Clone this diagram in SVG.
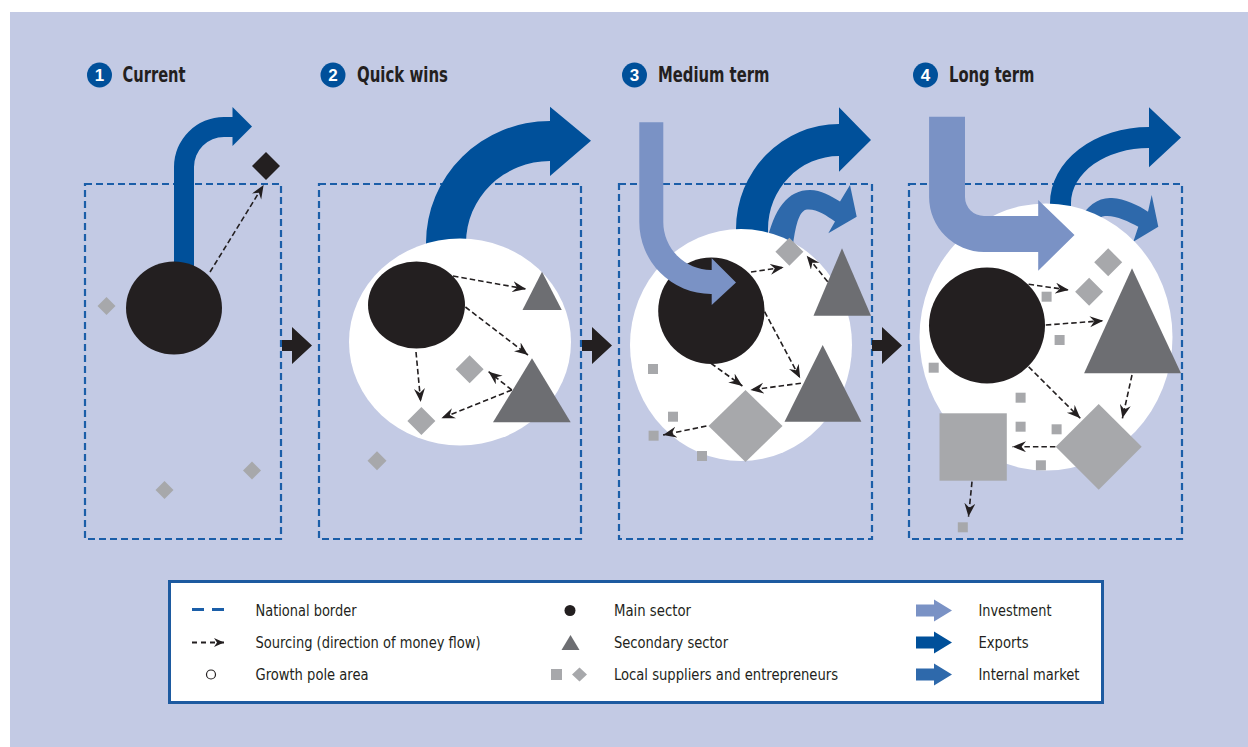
<svg xmlns="http://www.w3.org/2000/svg" width="1248" height="747" viewBox="0 0 1248 747">
<defs>
<marker id="ah" markerUnits="userSpaceOnUse" markerWidth="15" markerHeight="12" refX="13.5" refY="5.5" orient="auto">
<path d="M0,0 L13.5,5.5 L0,11 L4.5,5.5 Z" fill="#231f20"/>
</marker>
<marker id="ahs" markerUnits="userSpaceOnUse" markerWidth="12" markerHeight="10" refX="10" refY="4.5" orient="auto">
<path d="M0,0 L10,4.5 L0,9 L3,4.5 Z" fill="#231f20"/>
</marker>
<style>
.bg{fill:#c3cae4}
.border{fill:none;stroke:#1b5ea8;stroke-width:2.2;stroke-dasharray:7 4}
.pole{fill:#fff}
.main{fill:#231f20}
.sec{fill:#6d6e72}
.loc{fill:#a7a8ab}
.exp{fill:#00509a}
.inv{fill:#7a92c5}
.int{fill:#2e69ab}
.blk{fill:#231f20}
.src{fill:none;stroke:#231f20;stroke-width:1.6;stroke-dasharray:5.5 3;marker-end:url(#ah)}
.title{font-family:"Liberation Sans Narrow","DejaVu Sans Condensed","Liberation Sans",sans-serif;font-stretch:condensed;font-weight:bold;font-size:21px;fill:#231f20}
.num{font-family:"Liberation Sans","DejaVu Sans",sans-serif;font-weight:bold;font-size:17px;fill:#fff;text-anchor:middle}
.lg{font-family:"Liberation Sans Narrow","DejaVu Sans Condensed","Liberation Sans",sans-serif;font-stretch:condensed;font-size:16px;fill:#231f20}
</style>
</defs>
<rect class="bg" x="10" y="12" width="1238" height="735"/>

<!-- titles -->
<g id="title1"><circle cx="99.5" cy="75" r="12.5" fill="#00509a"/><text class="num" x="99.5" y="81">1</text><text class="title" x="122.5" y="82" textLength="63" lengthAdjust="spacingAndGlyphs">Current</text></g>
<g id="title2"><circle cx="333" cy="75" r="12.5" fill="#00509a"/><text class="num" x="333" y="81">2</text><text class="title" x="357" y="82" textLength="91" lengthAdjust="spacingAndGlyphs">Quick wins</text></g>
<g id="title3"><circle cx="634.5" cy="75" r="12.5" fill="#00509a"/><text class="num" x="634.5" y="81">3</text><text class="title" x="658" y="82" textLength="111.5" lengthAdjust="spacingAndGlyphs">Medium term</text></g>
<g id="title4"><circle cx="925.5" cy="75" r="12.5" fill="#00509a"/><text class="num" x="925.5" y="81">4</text><text class="title" x="949" y="82" textLength="85.5" lengthAdjust="spacingAndGlyphs">Long term</text></g>

<!-- national borders -->
<g id="borders">
<rect id="border1" class="border" x="85" y="184" width="196" height="355"/>
<rect id="border2" class="border" x="319" y="184" width="262" height="355"/>
<rect id="border3" class="border" x="619" y="184" width="253" height="355"/>
<rect id="border4" class="border" x="909" y="184" width="273" height="355"/>
</g>

<!-- stage transition arrows -->
<g id="stage-arrows">
<polygon class="blk" points="282,340 292,340 292,327 312,345.5 292,364 292,351 282,351"/>
<polygon class="blk" points="582,340 592,340 592,327 612,345.5 592,364 592,351 582,351"/>
<polygon class="blk" points="872,340 882,340 882,327 902,345.5 882,364 882,351 872,351"/>
</g>

<!-- Panel 1 -->
<g id="p1-exports"><path class="exp" d="M174 275 L174 167 A50 50 0 0 1 224 117 L232.5 117 L232.5 107 L252 126.5 L232.5 146 L232.5 137 L224 137 A30 30 0 0 0 194 167 L194 275 Z"/></g>
<g id="p1-main"><ellipse class="main" cx="174" cy="308" rx="48" ry="46.5"/></g>
<g id="p1-export-buyer"><polygon class="main" points="266,152 280,166 266,180 252,166"/></g>
<g id="p1-local1"><polygon class="loc" points="106.5,297 115.5,306 106.5,315 97.5,306"/></g>
<g id="p1-local2"><polygon class="loc" points="164.5,481 173.5,490 164.5,499 155.5,490"/></g>
<g id="p1-local3"><polygon class="loc" points="252,461.5 261,470.5 252,479.5 243,470.5"/></g>

<!-- Panel 2 -->
<g id="p2-exports"><path class="exp" d="M426 270 L426 243 A124 122 0 0 1 550 121 L550 106.7 L591 140.7 L550 176 L550 161 A84 82 0 0 0 466 243 L466 270 Z"/></g>
<g id="p2-pole"><ellipse class="pole" cx="460" cy="342" rx="111" ry="103.5"/></g>
<g id="p2-main"><ellipse class="main" cx="416.5" cy="305" rx="48.5" ry="43.5"/></g>
<g id="p2-sec1"><polygon class="sec" points="542,271.7 561.8,310 522.5,310"/></g>
<g id="p2-sec2"><polygon class="sec" points="532,358.3 570.7,422.3 493,422.3"/></g>
<g id="p2-local1"><polygon class="loc" points="469.6,355.3 483.6,369.3 469.6,383.3 455.6,369.3"/></g>
<g id="p2-local2"><polygon class="loc" points="421.4,407 435.4,421 421.4,435 407.4,421"/></g>
<g id="p2-local3"><polygon class="loc" points="377,451.2 386.5,460.7 377,470.2 367.5,460.7"/></g>

<!-- Panel 3 -->
<g id="p3-exports"><path class="exp" d="M736 250 L736 229 A103 105 0 0 1 839 124 L839 107.3 L871 140 L839 171.7 L839 156 A71 73 0 0 0 768 229 L768 250 Z"/></g>
<g id="p3-internal"><path class="int" d="M766 245 C774 208 788 190 810 190 C821 190 831 196 840 201.5 L850 185 L856.7 216.7 L828.3 233.3 L835 221.5 C826 215 816 208.5 807 209.5 C800 210.5 796 222 793 245 Z"/></g>
<g id="p3-pole"><ellipse class="pole" cx="741" cy="345" rx="111" ry="116"/></g>
<g id="p3-main"><circle class="main" cx="711.4" cy="310.8" r="53.2"/></g>
<g id="p3-investment"><path class="inv" d="M639.3 122.3 L639.3 222 A72 72 0 0 0 711 294 L711.7 294 L711.7 305 L736 282.5 L711.7 258.3 L711.7 270 L711 270 A48 48 0 0 1 663.3 222 L663.3 122.3 Z"/></g>
<g id="p3-sec1"><polygon class="sec" points="842,248.3 871,315.7 813.5,315.7"/></g>
<g id="p3-sec2"><polygon class="sec" points="822.7,345 861.4,421.7 784.5,421.7"/></g>
<g id="p3-local1"><polygon class="loc" points="789.4,237.7 803.4,251.7 789.4,265.7 775.4,251.7"/></g>
<g id="p3-local2"><polygon class="loc" points="745.5,390 782.5,426 745.5,462 708.5,426"/></g>
<g id="p3-local3"><rect class="loc" x="648" y="364" width="10" height="10"/></g>
<g id="p3-local4"><rect class="loc" x="668" y="411.7" width="10" height="10"/></g>
<g id="p3-local5"><rect class="loc" x="648.6" y="430.7" width="10" height="10"/></g>
<g id="p3-local6"><rect class="loc" x="697" y="451" width="10" height="10"/></g>

<!-- Panel 4 -->
<g id="p4-exports"><path class="exp" d="M1050 225 L1050 203 A99 76 0 0 1 1149 127 L1149 107.3 L1181 137.5 L1149 167.3 L1149 148 A78 55 0 0 0 1071 203 L1071 225 Z"/></g>
<g id="p4-internal"><path class="int" d="M1078 222 C1087 205 1099 197 1112 198 C1125 199 1138 205 1148 211.7 L1151.7 195 L1158.3 226.7 L1133.3 241.7 L1138.3 226.7 C1128 221 1115 215 1105 216 C1098 217 1093 222 1090 230 Z"/></g>
<g id="p4-pole"><ellipse class="pole" cx="1046" cy="337" rx="126.5" ry="133.5"/></g>
<g id="p4-investment"><path class="inv" d="M929.1 116.7 L929.1 197 A55 55 0 0 0 984 252 L1038.2 252 L1038.2 270.7 L1074.5 235 L1038.2 200 L1038.2 216 L984 216 A19 19 0 0 1 965 197 L965 116.7 Z"/></g>
<g id="p4-main"><circle class="main" cx="987" cy="325.5" r="58"/></g>
<g id="p4-sec1"><polygon class="sec" points="1132,268.3 1181,373.3 1084.1,373.3"/></g>
<g id="p4-local1"><polygon class="loc" points="1108.2,248.3 1122.2,262.3 1108.2,276.3 1094.2,262.3"/></g>
<g id="p4-local2"><polygon class="loc" points="1089.1,277.7 1103.1,291.7 1089.1,305.7 1075.1,291.7"/></g>
<g id="p4-local3"><polygon class="loc" points="1098.7,404 1141.7,446.7 1098.7,489.7 1055.7,446.7"/></g>
<g id="p4-local4"><rect class="loc" x="939.5" y="413.3" width="67.3" height="67.4"/></g>
<g id="p4-local5"><rect class="loc" x="1041.6" y="291.7" width="10" height="10"/></g>
<g id="p4-local6"><rect class="loc" x="1054.6" y="335" width="10" height="10"/></g>
<g id="p4-local7"><rect class="loc" x="928.7" y="362.7" width="10" height="10"/></g>
<g id="p4-local8"><rect class="loc" x="1015.6" y="392.7" width="10" height="10"/></g>
<g id="p4-local9"><rect class="loc" x="1015.6" y="421.7" width="10" height="10"/></g>
<g id="p4-local10"><rect class="loc" x="1051.6" y="424.3" width="10" height="10"/></g>
<g id="p4-local11"><rect class="loc" x="1035.9" y="460.3" width="10" height="10"/></g>
<g id="p4-local12"><rect class="loc" x="957.8" y="522.3" width="10" height="10"/></g>

<!-- sourcing connectors -->
<g id="connectors">
<line class="src" x1="210" y1="272" x2="263.6" y2="185"/>
<line class="src" x1="453" y1="276" x2="526" y2="289"/>
<line class="src" x1="465.4" y1="307" x2="528" y2="355"/>
<line class="src" x1="416" y1="352" x2="420.7" y2="402"/>
<line class="src" x1="511.8" y1="390" x2="441.4" y2="418.3"/>
<line class="src" x1="511.8" y1="390" x2="488.6" y2="371.7"/>
<line class="src" x1="751" y1="272" x2="783.7" y2="267.3"/>
<line class="src" x1="827.7" y1="281.7" x2="806.7" y2="255.7"/>
<line class="src" x1="764.6" y1="311.7" x2="800.2" y2="378.3"/>
<line class="src" x1="711" y1="363.3" x2="742.4" y2="386"/>
<line class="src" x1="800.9" y1="383.3" x2="750.4" y2="390"/>
<line class="src" x1="706.4" y1="426" x2="663.1" y2="435"/>
<line class="src" x1="1028.6" y1="284.3" x2="1068.8" y2="290"/>
<line class="src" x1="1045.8" y1="325" x2="1103.3" y2="320.7"/>
<line class="src" x1="1028.6" y1="366.7" x2="1080.3" y2="418.3"/>
<line class="src" x1="1132" y1="375" x2="1122.4" y2="418.3"/>
<line class="src" x1="1055.4" y1="446.7" x2="1012.5" y2="446.7"/>
<line class="src" x1="972" y1="481.7" x2="968.5" y2="516.7"/>
</g>

<!-- legend -->
<g id="legend">
<rect x="169.5" y="581.5" width="933" height="121" fill="#fff" stroke="#1d5aa0" stroke-width="3"/>
<g id="lg-border"><line x1="192" y1="609.5" x2="204" y2="609.5" stroke="#1b5ea8" stroke-width="3"/><line x1="212" y1="609.5" x2="224" y2="609.5" stroke="#1b5ea8" stroke-width="3"/><text class="lg" x="255.5" y="616" textLength="101" lengthAdjust="spacingAndGlyphs">National border</text></g>
<g id="lg-sourcing"><line x1="192" y1="642.5" x2="224" y2="642.5" stroke="#231f20" stroke-width="2" stroke-dasharray="5 4" marker-end="url(#ahs)"/><text class="lg" x="255.5" y="648" textLength="225" lengthAdjust="spacingAndGlyphs">Sourcing (direction of money flow)</text></g>
<g id="lg-pole"><circle cx="211" cy="674.5" r="4.5" fill="#fff" stroke="#231f20" stroke-width="1.2"/><text class="lg" x="255.5" y="680" textLength="113" lengthAdjust="spacingAndGlyphs">Growth pole area</text></g>
<g id="lg-main"><circle class="main" cx="570" cy="610.5" r="5.5"/><text class="lg" x="614" y="616" textLength="77" lengthAdjust="spacingAndGlyphs">Main sector</text></g>
<g id="lg-sec"><polygon class="sec" points="570.5,635 579.5,650 561.5,650"/><text class="lg" x="614" y="648" textLength="114" lengthAdjust="spacingAndGlyphs">Secondary sector</text></g>
<g id="lg-local"><rect class="loc" x="551" y="669" width="11" height="11"/><polygon class="loc" points="579.5,667.5 587,674.5 579.5,681.5 572,674.5"/><text class="lg" x="614" y="680" textLength="224" lengthAdjust="spacingAndGlyphs">Local suppliers and entrepreneurs</text></g>
<g id="lg-inv"><polygon class="inv" points="916,604.5 934,604.5 934,599.5 952,610.5 934,621.5 934,616.5 916,616.5"/><text class="lg" x="978.5" y="616" textLength="73" lengthAdjust="spacingAndGlyphs">Investment</text></g>
<g id="lg-exp"><polygon class="exp" points="916,636.5 934,636.5 934,631.5 952,642.5 934,653.5 934,648.5 916,648.5"/><text class="lg" x="978.5" y="648" textLength="50" lengthAdjust="spacingAndGlyphs">Exports</text></g>
<g id="lg-int"><polygon class="int" points="916,668.5 934,668.5 934,663.5 952,674.5 934,685.5 934,680.5 916,680.5"/><text class="lg" x="978.5" y="680" textLength="101" lengthAdjust="spacingAndGlyphs">Internal market</text></g>
</g>
</svg>
